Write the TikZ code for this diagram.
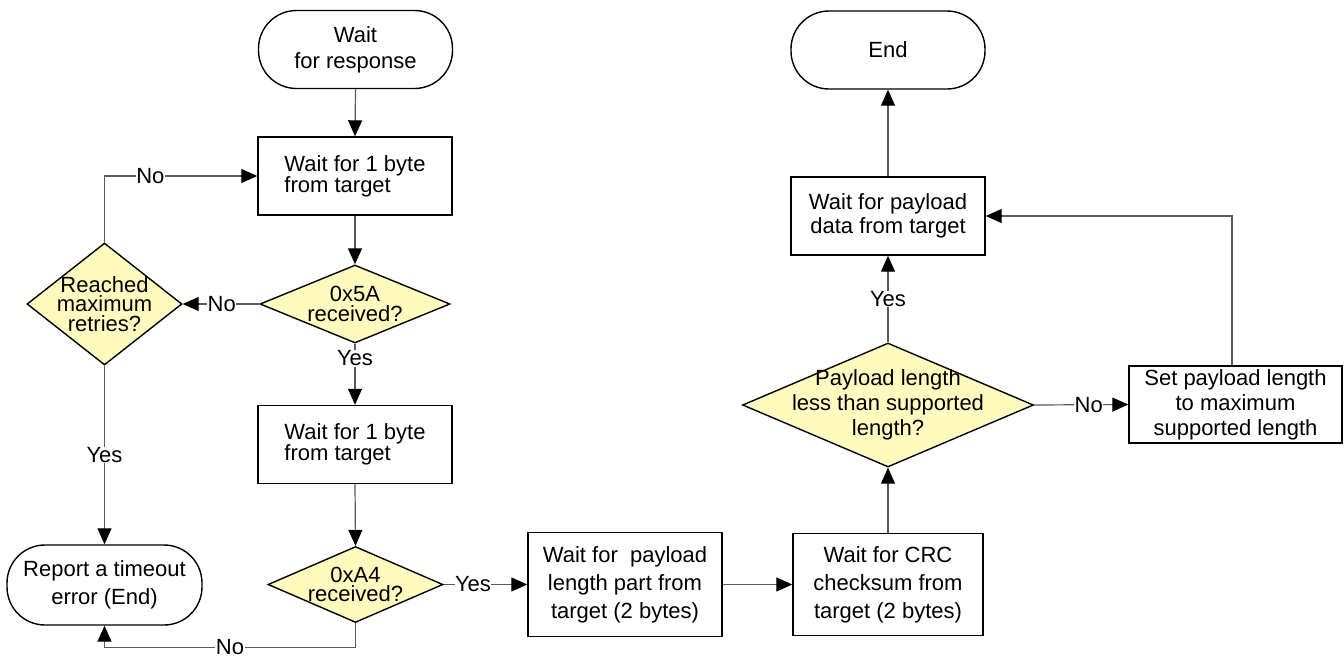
\documentclass[tikz,border=0pt]{standalone}
\usepackage{fontspec}
\setmainfont{Liberation Sans}
\usetikzlibrary{shapes.geometric,arrows.meta}
\definecolor{decfill}{RGB}{255,250,190}
\definecolor{linegray}{RGB}{90,90,90}
\begin{document}
\begin{tikzpicture}[x=1pt,y=-1pt,
  txt/.style={font=\fontsize{22}{26}\selectfont},
  proc/.style={txt, draw=black, line width=1.4pt, minimum width=194pt, minimum height=78pt, inner sep=2pt, align=center},
  term/.style={proc, rounded corners=38pt},
  dec/.style={diamond, draw=black, line width=1.4pt, fill=decfill, inner sep=0pt},
  dectext/.style={txt, align=center, inner sep=0pt},
  conn/.style={draw=linegray, line width=1.2pt, -{Triangle[length=16pt,width=14pt,color=black]}},
  lab/.style={txt, fill=white, inner sep=0.5pt}
]
\useasboundingbox (0,0) rectangle (1344,659);
\fill[white] (0,0) rectangle (1344,659);

% left column
\node[term] (start) at (355.5,49.5) {Wait\\ for response};
\node[proc, align=left, font=\fontsize{22}{21}\selectfont] (box1) at (355,176) {Wait for 1 byte\\from target};
\node[dec, minimum width=190pt, minimum height=78pt] (d1) at (355,304) {};
\node[dectext, font=\fontsize{22}{19.5}\selectfont] (d1t) at (355,304) {0x5A\\received?};
\node[proc, align=left, font=\fontsize{22}{21}\selectfont] (box2) at (355,444.5) {Wait for 1 byte\\from target};
\node[dec, minimum width=175pt, minimum height=76pt] (d2) at (355.5,584.5) {};
\node[dectext, font=\fontsize{22}{19.5}\selectfont] (d2t) at (355.5,584.5) {0xA4\\received?};

\node[dec, minimum width=155pt, minimum height=122pt] (d3) at (104.5,304) {};
\node[dectext, font=\fontsize{22}{19.5}\selectfont] (d3t) at (104.5,304) {Reached\\maximum\\retries?};
\node[term, minimum width=195pt, minimum height=80pt, font=\fontsize{22}{28}\selectfont] (report) at (104.5,585) {Report a timeout\\error (End)};

% bottom row
\node[proc, minimum width=194pt, minimum height=104pt, font=\fontsize{22}{28}\selectfont] (box3) at (625,584.5) {Wait for \ payload\\length part from\\target (2 bytes)};
\node[proc, minimum width=190pt, minimum height=102pt, font=\fontsize{22}{28}\selectfont] (box4) at (888,584.5) {Wait for CRC\\checksum from\\target (2 bytes)};

% right column
\node[dec, minimum width=291pt, minimum height=124pt] (d4) at (888,405) {};
\node[dectext, font=\fontsize{22}{25}\selectfont] (d4t) at (888,405) {Payload length\\less than supported\\length?};
\node[proc, minimum width=213pt, minimum height=77pt, font=\fontsize{22}{25}\selectfont] (setbox) at (1235.5,404.5) {Set payload length\\to maximum\\supported length};
\node[proc, font=\fontsize{22}{24}\selectfont] (box5) at (888,216) {Wait for payload\\data from target};
\node[term] (end) at (888,50) {End};

% connectors
\draw[conn] (start.south) -- (box1.north);
\draw[conn] (box1.south) -- (d1.north);
\draw[conn] (d1.south) -- node[lab, pos=0.24] (l1) {Yes} (box2.north);
\draw[conn] (box2.south) -- (d2.north);
\draw[conn] (d2.east) -- node[lab, pos=0.35] (l2) {Yes} (box3.west);
\draw[conn] (box3.east) -- (box4.west);
\draw[conn] (box4.north) -- (d4.south);
\draw[conn] (d4.north) -- node[lab, pos=0.5] (l3) {Yes} (box5.south);
\draw[conn] (d4.east) -- node[lab, pos=0.58] (l4) {No} (setbox.west);
\draw[conn] ([xshift=-3.5pt]setbox.north) |- (box5.east);
\draw[conn] (box5.north) -- (end.south);
\draw[conn] (d1.west) -- node[lab, pos=0.49] (l5) {No} (d3.east);
\draw[conn] (d3.north) |- node[lab, pos=0.65] (l6) {No} (box1.west);
\draw[conn] (d3.south) -- node[lab, pos=0.5] (l7) {Yes} (report.north);
\draw[conn] (d2.south) -- ++(0,24) coordinate (c1) -| node[lab, pos=0.25] (l8) {No} (report.south);
\end{tikzpicture}
\end{document}
